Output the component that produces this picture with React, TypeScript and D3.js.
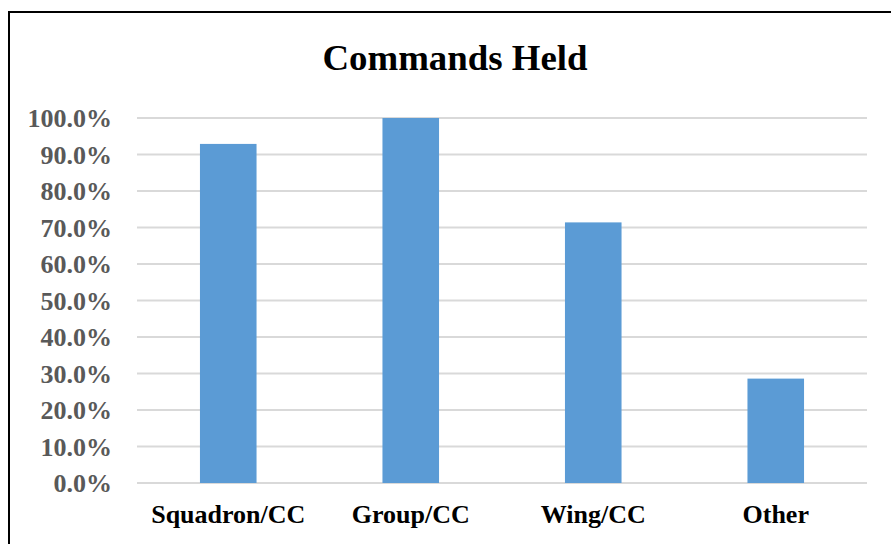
import React, { useEffect, useRef } from "react";
import * as d3 from "d3";

const categories = ["Squadron/CC", "Group/CC", "Wing/CC", "Other"];
const values = [0.929, 1.0, 0.714, 0.286];
const ticks = [0, 0.1, 0.2, 0.3, 0.4, 0.5, 0.6, 0.7, 0.8, 0.9, 1.0];

const W = 891;
const H = 544;

export default function App() {
  const svgRef = useRef<SVGSVGElement>(null);

  useEffect(() => {
    const svg = d3.select(svgRef.current);
    svg.selectAll("*").remove();

    const left = 137, right = 867, top = 118, bottom = 483;
    const font = "'Liberation Serif', 'Times New Roman', serif";

    const x = d3.scaleBand().domain(categories).range([left, right]).padding(0);
    const y = d3.scaleLinear().domain([0, 1]).range([bottom, top]);

    // chart frame (cut off at right/bottom like the source)
    svg.append("rect")
      .attr("x", 9).attr("y", 12)
      .attr("width", W + 20).attr("height", H + 20)
      .attr("fill", "white").attr("stroke", "black").attr("stroke-width", 2);

    svg.append("text")
      .attr("x", 455).attr("y", 70)
      .attr("text-anchor", "middle")
      .attr("font-family", font).attr("font-weight", "bold")
      .attr("font-size", 36)
      .attr("textLength", 265).attr("lengthAdjust", "spacingAndGlyphs")
      .text("Commands Held");

    // gridlines
    svg.selectAll(".grid")
      .data(ticks)
      .join("line")
      .attr("class", "grid")
      .attr("x1", left).attr("x2", right)
      .attr("y1", d => y(d)).attr("y2", d => y(d))
      .attr("stroke", "#d9d9d9").attr("stroke-width", 2);

    svg.selectAll(".tick")
      .data(ticks)
      .join("text")
      .attr("class", "tick")
      .attr("x", 112).attr("y", d => y(d) + 9)
      .attr("text-anchor", "end")
      .attr("font-family", font).attr("font-weight", "bold")
      .attr("font-size", 26).attr("fill", "#595959")
      .text(d => d3.format(".1%")(d));

    const bw = x.bandwidth() * 0.31;
    svg.selectAll(".bar")
      .data(values)
      .join("rect")
      .attr("class", "bar")
      .attr("x", (d, i) => x(categories[i])! + (x.bandwidth() - bw) / 2)
      .attr("width", bw)
      .attr("y", d => y(d))
      .attr("height", d => y(0) - y(d))
      .attr("fill", "#5b9bd5");

    svg.selectAll(".cat")
      .data(categories)
      .join("text")
      .attr("class", "cat")
      .attr("x", d => x(d)! + x.bandwidth() / 2)
      .attr("y", 523)
      .attr("text-anchor", "middle")
      .attr("font-family", font).attr("font-weight", "bold")
      .attr("font-size", 26).attr("fill", "black")
      .text(d => d);
  }, []);

  return (
    <svg ref={svgRef} width={W} height={H}
      style={{ position: "absolute", left: 0, top: 0, display: "block" }} />
  );
}
